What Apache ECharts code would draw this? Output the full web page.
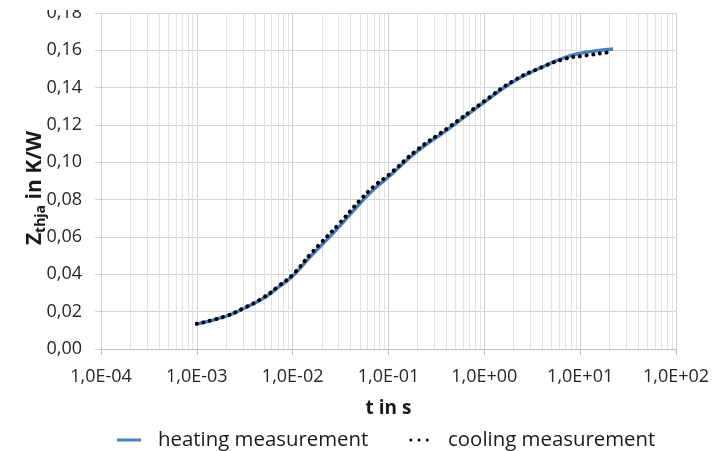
<!DOCTYPE html>
<html>
<head>
<meta charset="utf-8">
<script src="https://cdn.jsdelivr.net/npm/echarts@6/dist/echarts.min.js"></script>
<style>
  html, body { margin: 0; padding: 0; background: #fff; }
  #chart { width: 725px; height: 451px; }
</style>
</head>
<body>
<div id="chart"></div>
<script>
// Werte (t in s, Z in K/W)
var heatT = [0.001, 0.002, 0.003, 0.005, 0.007, 0.01, 0.015, 0.02, 0.03, 0.05, 0.07,
  0.1, 0.2, 0.4, 1, 2, 4, 7, 10, 15, 22];
var heatZ = [0.0133, 0.0175, 0.0214, 0.0273, 0.0329, 0.0391, 0.0490, 0.0556, 0.0650, 0.0778, 0.0855,
  0.0922, 0.1060, 0.1170, 0.1322, 0.1432, 0.1510, 0.1563, 0.1584, 0.1598, 0.1607];

var coolT = [0.001, 0.002, 0.003, 0.005, 0.007, 0.01, 0.015, 0.02, 0.03, 0.05, 0.07,
  0.1, 0.2, 0.4, 1, 2, 4, 7, 10, 19];
var coolZ = [0.0135, 0.0176, 0.0216, 0.0277, 0.0334, 0.0398, 0.0503, 0.0572, 0.0667, 0.0795, 0.0870,
  0.0932, 0.1068, 0.1178, 0.1328, 0.1436, 0.1510, 0.1555, 0.1568, 0.1588];

var xMin = 1e-4, xMax = 1e2;
var yMin = 0, yMax = 0.18;

// Zwischenlinien 2..9 je Dekade
var minorTicks = [];
for (var d = -4; d < 2; d++) {
  for (var k = 2; k <= 9; k++) {
    minorTicks.push(k * Math.pow(10, d));
  }
}

function pairs(xs, ys) {
  return xs.map(function (x, i) { return [x, ys[i]]; });
}

function fmtExp(v) {
  var e = Math.round(Math.log10(v));
  var s = e < 0 ? '-' : '+';
  var a = Math.abs(e);
  return '1,0E' + s + (a < 10 ? '0' + a : a);
}

var chart = echarts.init(document.getElementById('chart'));
var font = 'Open Sans';

var option = {
  animation: false,
  textStyle: { fontFamily: font },
  grid: { left: 101, right: 49, top: 13, bottom: 102, containLabel: false },
  legend: {
    data: [
      { name: 'heating measurement', icon: 'rect' },
      { name: 'cooling measurement', icon: 'path://M1.6,1.5a1.6,1.6 0 1,0 3.2,0a1.6,1.6 0 1,0 -3.2,0M10.4,1.5a1.6,1.6 0 1,0 3.2,0a1.6,1.6 0 1,0 -3.2,0M19.2,1.5a1.6,1.6 0 1,0 3.2,0a1.6,1.6 0 1,0 -3.2,0' }
    ],
    left: 112,
    top: 425,
    itemWidth: 24,
    itemHeight: 3,
    itemGap: 41,
    textStyle: { fontFamily: font, fontSize: 20.4, color: '#1a1a1a', padding: [0, 0, 0, 12] }
  },
  xAxis: {
    type: 'log',
    logBase: 10,
    min: xMin,
    max: xMax,
    name: 't in s',
    nameLocation: 'middle',
    nameGap: 50,
    nameTextStyle: { fontFamily: font, fontSize: 19, fontWeight: 'bold', color: '#1a1a1a' },
    axisLine: { show: true, lineStyle: { color: '#bfbfbf', width: 1 } },
    axisTick: { show: true, length: 6, lineStyle: { color: '#bfbfbf' } },
    axisLabel: {
      margin: 19,
      fontFamily: font,
      fontSize: 18,
      color: '#262626',
      formatter: fmtExp
    },
    splitLine: { show: true, lineStyle: { color: '#d4d4d4', width: 1 } }
  },
  yAxis: {
    type: 'value',
    min: yMin,
    max: yMax,
    interval: 0.02,
    name: '{m|Z}{s|thja}{m| in K/W}',
    nameLocation: 'middle',
    nameRotate: 90,
    nameGap: 53,
    nameMoveOverlap: false,
    nameTextStyle: {
      padding: [0, 14, 0, 0],
      rich: {
        m: { fontFamily: font, fontSize: 21, fontWeight: 'bold', color: '#1a1a1a' },
        s: { fontFamily: font, fontSize: 14, fontWeight: 'bold', color: '#1a1a1a', padding: [11, 0, 0, 0] }
      }
    },
    axisLine: { show: false },
    axisTick: { show: true, length: 6, lineStyle: { color: '#d4d4d4' } },
    axisLabel: {
      margin: 19,
      fontFamily: font,
      fontSize: 18,
      color: '#262626',
      formatter: function (v) { return v.toFixed(2).replace('.', ','); }
    },
    splitLine: { show: true, lineStyle: { color: '#d4d4d4', width: 1 } }
  },
  graphic: [
    // oberer Rand wie im Original abgeschnitten
    { type: 'rect', left: 0, top: 0, z: 100, shape: { width: 725, height: 10 }, style: { fill: '#fff' } }
  ],
  series: [
    {
      name: 'minor',
      type: 'custom',
      silent: true,
      z: 1,
      data: minorTicks.map(function (v) { return [v, yMin]; }),
      renderItem: function (params, api) {
        var v = api.value(0);
        var p1 = api.coord([v, yMin]);
        var p2 = api.coord([v, yMax]);
        var x = Math.round(p1[0]) + 0.5;
        return {
          type: 'line',
          shape: { x1: x, y1: p1[1], x2: x, y2: p2[1] },
          style: { stroke: '#e2e2e2', lineWidth: 1 }
        };
      }
    },
    {
      name: 'heating measurement',
      type: 'line',
      data: pairs(heatT, heatZ),
      smooth: true,
      showSymbol: false,
      symbol: 'none',
      z: 3,
      itemStyle: { color: '#4a7ebb' },
      lineStyle: { color: '#4a7ebb', width: 3.4 }
    },
    {
      name: 'cooling measurement',
      type: 'line',
      data: pairs(coolT, coolZ),
      smooth: true,
      showSymbol: false,
      symbol: 'none',
      z: 4,
      itemStyle: { color: '#000' },
      lineStyle: { color: '#000', width: 4, type: [0.1, 6.6], cap: 'round' }
    }
  ]
};

option && chart.setOption(option);
</script>
</body>
</html>
